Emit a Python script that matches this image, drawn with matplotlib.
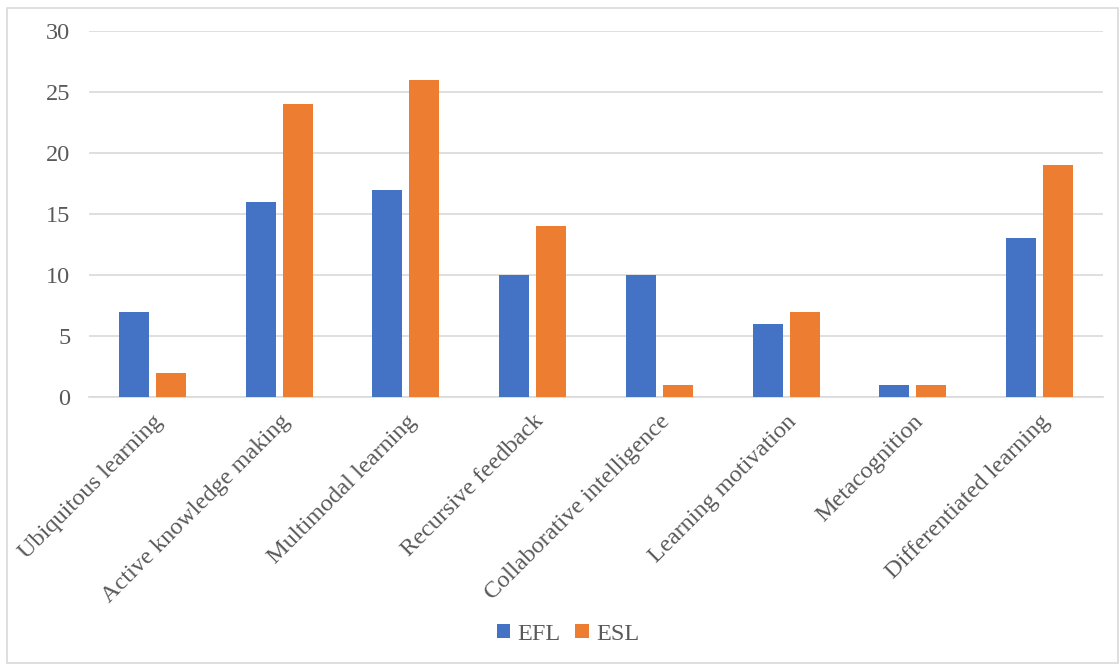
import matplotlib
matplotlib.use("Agg")
import matplotlib.pyplot as plt
import numpy as np
from matplotlib.patches import Rectangle

categories = ["Ubiquitous learning", "Active knowledge making", "Multimodal learning",
              "Recursive feedback", "Collaborative intelligence", "Learning motivation",
              "Metacognition", "Differentiated learning"]
efl = [7, 16, 17, 10, 10, 6, 1, 13]
esl = [2, 24, 26, 14, 1, 7, 1, 19]
yticks = [0, 5, 10, 15, 20, 25, 30]

plt.rcParams['font.family'] = ['Liberation Serif', 'DejaVu Serif']
W, H = 1119, 664
fig = plt.figure(figsize=(W/100, H/100), dpi=100)
ax = fig.add_axes([89/W, 1-397/H, (1103-89)/W, (397-31)/H])

x = np.arange(len(categories))
bw = 0.237
off = 0.146
blue = "#4472C4"
orange = "#ED7D31"
ax.bar(x - off, efl, bw, color=blue, label="EFL", zorder=3)
ax.bar(x + off, esl, bw, color=orange, label="ESL", zorder=3)

ax.set_xlim(-0.5, len(categories) - 0.5)
ax.set_ylim(0, 30)
ax.set_yticks(yticks)
ax.yaxis.grid(True, color="#D9D9D9", linewidth=1.2, zorder=0)
for s in ["top", "right", "left"]:
    ax.spines[s].set_visible(False)
ax.spines["bottom"].set_color("#D9D9D9")
ax.spines["bottom"].set_linewidth(1.2)
ax.tick_params(axis="both", length=0, labelcolor="#595959", labelsize=17.5)
ax.tick_params(axis="y", pad=13.5)
ax.set_xticks(x)
ax.set_xticklabels(categories, rotation=45, ha="right", va="top",
                   rotation_mode="anchor")
ax.tick_params(axis="x", pad=10)

leg = ax.legend(loc="center", bbox_to_anchor=(568/W, 1-634/H), bbox_transform=fig.transFigure,
                ncol=2, frameon=False, fontsize=17.5, labelcolor="#595959",
                handlelength=0.55, handleheight=0.55, handletextpad=0.3, columnspacing=0.6)

fig.patches.append(Rectangle((7/W, 1-663/H), (1118-7)/W, (663-8)/H, transform=fig.transFigure,
                             fill=False, edgecolor="#D9D9D9", linewidth=1.2))

fig.savefig("out.png", dpi=100)
